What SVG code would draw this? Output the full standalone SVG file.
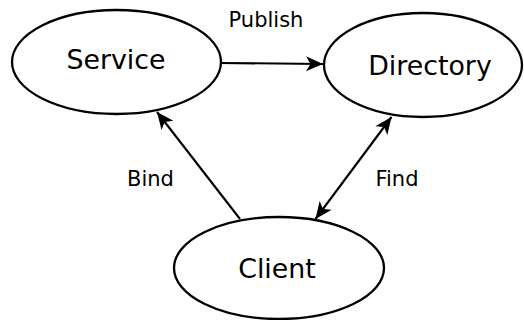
<svg xmlns="http://www.w3.org/2000/svg" width="524" height="320" viewBox="0 0 524 320">
  <style>
    .node { fill: #fff; stroke: #000; stroke-width: 2.3; }
    .name { font-family: "DejaVu Sans", sans-serif; font-size: 26.8px; fill: #000; text-anchor: middle; }
    .label { font-family: "DejaVu Sans", sans-serif; font-size: 21px; fill: #000; text-anchor: middle; }
    .edge { fill: none; stroke: #000; stroke-width: 2.1; }
  </style>
  <defs>
    <marker id="head" markerUnits="userSpaceOnUse" markerWidth="20" markerHeight="20" viewBox="-18 -9 20 18" refX="0" refY="0" orient="auto-start-reverse">
      <path d="M0,0 L-17,-7.5 L-12.5,0 L-17,7.5 Z" fill="#000"/>
    </marker>
  </defs>
  <rect width="524" height="320" fill="#fff"/>

  <g id="connectors">
    <line class="edge" x1="221" y1="63" x2="323" y2="64" marker-end="url(#head)"/>
    <line class="edge" x1="240" y1="219" x2="157" y2="112" marker-end="url(#head)"/>
    <line class="edge" x1="391.5" y1="117" x2="315.5" y2="219" marker-start="url(#head)" marker-end="url(#head)"/>
  </g>

  <g id="service">
    <ellipse class="node" cx="116.5" cy="62" rx="104.5" ry="52"/>
    <text class="name" x="116" y="69">Service</text>
  </g>
  <g id="directory">
    <ellipse class="node" cx="423" cy="65" rx="99" ry="52"/>
    <text class="name" x="430" y="75">Directory</text>
  </g>
  <g id="client">
    <ellipse class="node" cx="279" cy="268" rx="105" ry="51"/>
    <text class="name" x="277" y="278">Client</text>
  </g>

  <g id="labels">
    <text class="label" x="266" y="27">Publish</text>
    <text class="label" x="150.5" y="186">Bind</text>
    <text class="label" x="397" y="186">Find</text>
  </g>
</svg>
